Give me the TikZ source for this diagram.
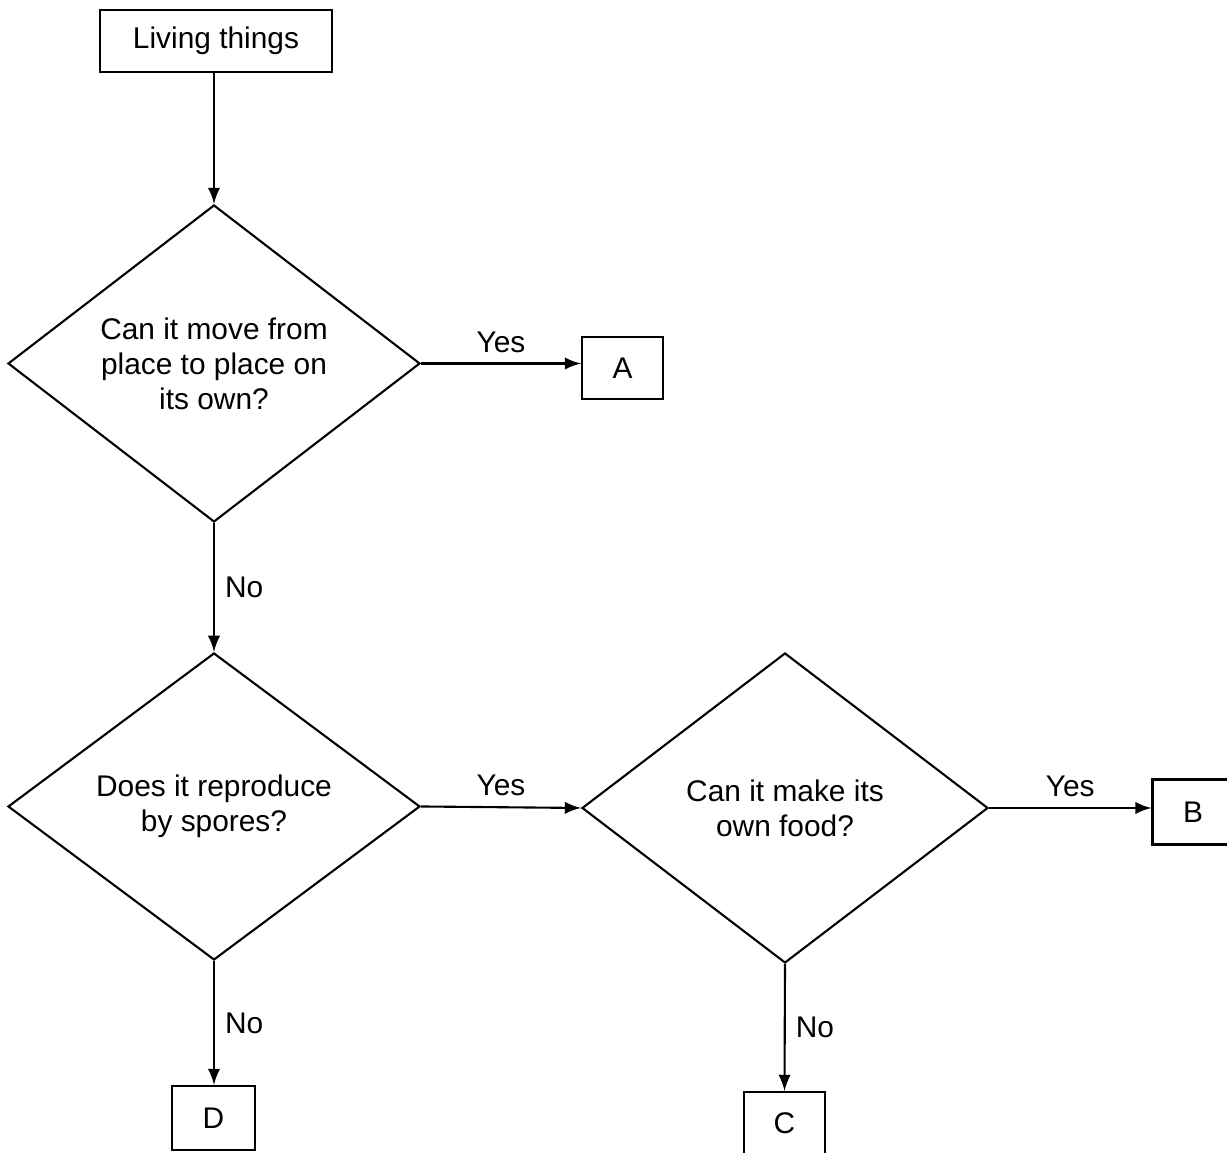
\documentclass[tikz,border=0pt]{standalone}
\usepackage{fontspec}
\setmainfont{Liberation Sans}
\usepackage{tikz}
\usetikzlibrary{shapes.geometric, arrows, positioning, calc}

\begin{document}
\begin{tikzpicture}[line width=0.6pt,
  box/.style={draw,rectangle,inner sep=0pt,minimum width=0.81cm,minimum height=0.62cm},
  question/.style={draw,diamond,aspect=1.3,inner sep=0pt,align=center},
  link/.style={-latex}]
\useasboundingbox (0,0) rectangle (12.27,11.53);
\fontsize{8.5}{10}\selectfont
% Boxes
\node[box,minimum width=2.32cm] (living) at (2.16,11.12) {Living things};
\node[box] (boxA) at (6.225,7.85) {A};
\node[box,minimum height=0.65cm] (boxB) at (11.93,3.41) {B};
\node[box] (boxC) at (7.845,0.30) {C};
\node[box,minimum width=0.83cm,minimum height=0.64cm] (boxD) at (2.135,0.35) {D};
% Questions
\node[question,minimum width=4.12cm,minimum height=3.17cm] (move) at (2.14,7.895)
  {Can it move from\\place to place on\\its own?};
\node[question,minimum width=4.12cm,minimum height=3.07cm] (spores) at (2.14,3.465)
  {Does it reproduce\\by spores?};
\node[question,minimum width=4.06cm,minimum height=3.10cm] (food) at (7.85,3.45)
  {Can it make its\\own food?};
% Arrows
\draw[link] (living.south -| move.north) -- (move.north);
\draw[link] (move.east) -- (move.east -| boxA.west) node[midway,above] {Yes};
\draw[link] (move) -- (spores) node[midway,right] {No};
\draw[link] (spores.east) -- (food.west) node[midway,above] {Yes};
\draw[link] (food.east) -- (food.east -| boxB.west) node[midway,above] {Yes};
\draw[link] (spores.south) -- (spores.south |- boxD.north) node[midway,right] {No};
\draw[link] (food.south) -- (boxC.north) node[midway,right] {No};
\end{tikzpicture}
\end{document}
